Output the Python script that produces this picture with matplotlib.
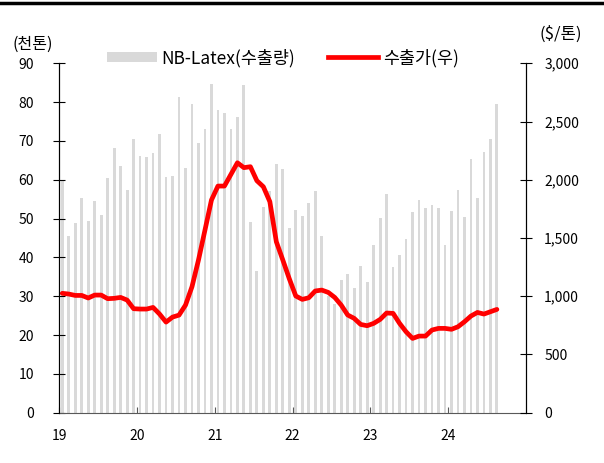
import numpy as np
import matplotlib
matplotlib.use("Agg")
import matplotlib.pyplot as plt
from matplotlib.patches import Patch
from matplotlib.lines import Line2D
from matplotlib.ticker import FuncFormatter

plt.rcParams['font.family'] = ['Noto Sans CJK KR', 'DejaVu Sans']

# 월별 데이터: 2019.01 ~ 2024.08
year_labels = ['19', '20', '21', '22', '23', '24']

export_volume = [  # NB-Latex 수출량 (천톤)
    59.8, 45.4, 48.8, 55.4, 49.5, 54.6, 50.9, 60.4, 68.3, 63.6, 57.3, 70.4,
    66.2, 65.9, 67.0, 71.8, 60.7, 61.0, 81.2, 63.1, 79.6, 69.4, 73.2, 84.6,
    78.0, 77.1, 73.1, 76.2, 84.4, 49.1, 36.6, 53.0, 57.1, 64.0, 62.8, 47.5,
    52.2, 50.7, 54.1, 57.1, 45.5, 30.0, 28.0, 34.3, 35.7, 32.1, 37.8, 33.6,
    43.2, 50.2, 56.3, 37.5, 40.6, 44.7, 51.7, 54.9, 52.7, 53.5, 52.7, 43.2,
    51.9, 57.4, 50.4, 65.4, 55.4, 67.1, 70.5, 79.5,
]

export_price = [  # 수출가 ($/톤)
    1025, 1019, 1007, 1007, 985, 1010, 1010, 979, 982, 990, 967, 893,
    890, 890, 904, 847, 778, 821, 838, 924, 1082, 1311, 1568, 1826,
    1946, 1946, 2046, 2146, 2104, 2112, 1992, 1940, 1812, 1468, 1311, 1150,
    1002, 973, 987, 1045, 1053, 1033, 990, 924, 839, 810, 758, 747,
    767, 801, 856, 853, 767, 695, 638, 658, 658, 710, 724, 724,
    716, 738, 781, 830, 861, 847, 867, 887,
]

n = len(export_volume)
x = np.arange(n) + 0.5

fig = plt.figure(figsize=(6.04, 4.63), dpi=100)
ax = fig.add_axes([0.0977, 0.1086, 0.7733, 0.7547])
ax2 = ax.twinx()

ax.bar(x, export_volume, width=0.43, color='#d9d9d9', zorder=1)
ax2.plot(x, export_price, color='#ff0000', linewidth=3.4, solid_capstyle='round')

ax.set_xlim(0, 72)
ax.set_ylim(0, 90)
ax.set_yticks(range(0, 91, 10))
ax2.set_ylim(0, 3000)
ax2.set_yticks(range(0, 3001, 500))
ax2.yaxis.set_major_formatter(FuncFormatter(lambda v, p: f'{int(v):,}'))

ax.set_xticks(range(0, 61, 12))
ax.set_xticklabels(year_labels)

for a in (ax, ax2):
    a.spines['top'].set_visible(False)
ax2.spines['bottom'].set_visible(False)
ax.spines['bottom'].set_color('#595959')
ax.spines['left'].set_color('black')
ax2.spines['right'].set_color('black')

ax.tick_params(axis='y', direction='inout', length=8, width=0.8, labelsize=10, pad=14, colors='black')
ax2.tick_params(axis='y', direction='inout', length=8, width=0.8, labelsize=10, pad=9, colors='black')
ax.tick_params(axis='x', direction='in', length=4, width=0.8, labelsize=10, pad=12, color='#595959')

fig.text(0.055, 0.905, '(천톤)', fontsize=11.5, ha='center', va='center')
fig.text(0.929, 0.925, '($/톤)', fontsize=12, ha='center', va='center')

handles = [Patch(facecolor='#d9d9d9', edgecolor='none'),
           Line2D([0], [0], color='#ff0000', linewidth=3.4)]
fig.legend(handles, ['NB-Latex(수출량)', '수출가(우)'], loc='center',
           bbox_to_anchor=(0.468, 0.875), ncol=2, frameon=False, fontsize=12.5,
           handlelength=2.9, handleheight=0.55, handletextpad=0.25, columnspacing=1.9)

fig.add_artist(Line2D([0, 1], [1 - 3 / 463, 1 - 3 / 463], color='black', linewidth=2.5,
                      transform=fig.transFigure))

fig.savefig('out.png', dpi=100)
